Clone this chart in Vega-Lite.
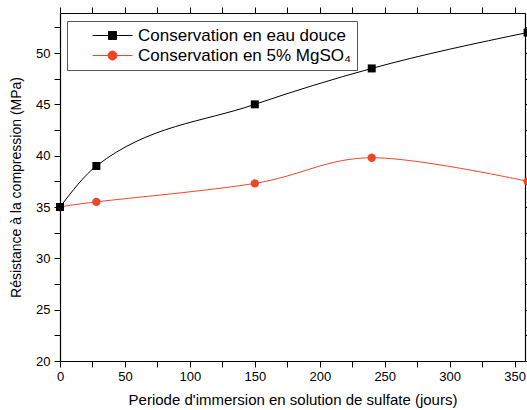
{
  "$schema": "https://vega.github.io/schema/vega-lite/v6.json",
  "width": 465,
  "height": 348,
  "autosize": {"type": "none"},
  "padding": {"left": 60, "top": 13, "right": 2, "bottom": 49},
  "background": "white",
  "config": {
    "view": {"stroke": null},
    "axis": {
      "domainColor": "black",
      "tickColor": "black",
      "labelColor": "black",
      "titleColor": "black",
      "labelFont": "Liberation Sans",
      "titleFont": "Liberation Sans",
      "labelFontSize": 13,
      "titleFontSize": 15,
      "titleFontWeight": "normal",
      "grid": false,
      "labelFlush": false,
      "labelOverlap": false,
      "domainWidth": 1.2,
      "tickWidth": 1
    },
    "legend": {
      "labelFont": "Liberation Sans",
      "labelFontSize": 17,
      "labelColor": "black",
      "labelLimit": 400
    }
  },
  "data": {
    "values": [
      {"jours": 0, "resistance": 35.0, "serie": "Conservation en eau douce"},
      {"jours": 28, "resistance": 39.0, "serie": "Conservation en eau douce"},
      {"jours": 150, "resistance": 45.0, "serie": "Conservation en eau douce"},
      {"jours": 240, "resistance": 48.5, "serie": "Conservation en eau douce"},
      {"jours": 360, "resistance": 52.0, "serie": "Conservation en eau douce"},
      {"jours": 0, "resistance": 35.0, "serie": "Conservation en 5% MgSO₄"},
      {"jours": 28, "resistance": 35.5, "serie": "Conservation en 5% MgSO₄"},
      {"jours": 150, "resistance": 37.3, "serie": "Conservation en 5% MgSO₄"},
      {"jours": 240, "resistance": 39.8, "serie": "Conservation en 5% MgSO₄"},
      {"jours": 360, "resistance": 37.5, "serie": "Conservation en 5% MgSO₄"}
    ]
  },
  "resolve": {"axis": {"x": "independent", "y": "independent"}},
  "layer": [
    {
      "transform": [{"filter": "datum.serie === 'Conservation en eau douce'"}],
      "mark": {"type": "line", "interpolate": "monotone", "strokeWidth": 1, "clip": true},
      "encoding": {
        "x": {
          "field": "jours", "type": "quantitative",
          "scale": {"domain": [0, 358], "nice": false, "zero": false},
          "axis": {
            "orient": "bottom",
            "title": "Periode d'immersion en solution de sulfate (jours)",
            "values": [0, 25, 50, 75, 100, 125, 150, 175, 200, 225, 250, 275, 300, 325, 350],
            "labelExpr": "datum.value % 50 === 0 ? datum.label : ''",
            "tickSize": 6,
            "labelPadding": 3,
            "titlePadding": 9,
            "encode": {"ticks": {"y2": {"value": {"expr": "datum.value % 50 === 0 ? 6 : 3"}}}}
          }
        },
        "y": {
          "field": "resistance", "type": "quantitative",
          "scale": {"domain": [20, 53.9], "nice": false, "zero": false},
          "axis": {
            "orient": "left",
            "title": "Résistance à la compression (MPa)",
            "titleFontSize": 14,
            "values": [20, 22.5, 25, 27.5, 30, 32.5, 35, 37.5, 40, 42.5, 45, 47.5, 50, 52.5],
            "labelExpr": "datum.value % 5 === 0 ? datum.label : ''",
            "tickSize": 6,
            "labelPadding": 4,
            "titlePadding": 12,
            "encode": {"ticks": {"x2": {"value": {"expr": "datum.value % 5 === 0 ? -6 : -3"}}}}
          }
        },
        "color": {
          "field": "serie", "type": "nominal",
          "scale": {"domain": ["Conservation en eau douce", "Conservation en 5% MgSO₄"], "range": ["black", "#ef4626"]},
          "legend": {
            "title": null,
            "orient": "none",
            "legendX": 7,
            "legendY": 8,
            "padding": 6,
            "strokeColor": "#555555",
            "fillColor": "white",
            "symbolSize": 100,
            "symbolOffset": 31,
            "labelOffset": 17,
            "rowPadding": 2,
            "labelExpr": "datum.label + '\u00a0\u00a0\u00a0\u00a0'",
            "encode": {
              "symbols": {
                "update": {
                  "shape": {"signal": "datum.value === 'Conservation en eau douce' ? 'M-4,0H4M-0.8,-0.8H0.8V0.8H-0.8Z' : 'M-4,0H4M-0.9,0A0.9,0.9 0 1,0 0.9,0A0.9,0.9 0 1,0 -0.9,0Z'"},
                  "fill": {"signal": "datum.value === 'Conservation en eau douce' ? 'black' : '#ef4626'"},
                  "strokeWidth": {"value": 1},
                  "opacity": {"value": 1}
                }
              }
            }
          }
        }
      }
    },
    {
      "transform": [{"filter": "datum.serie === 'Conservation en 5% MgSO₄'"}],
      "mark": {"type": "line", "interpolate": "cardinal", "strokeWidth": 1, "clip": true},
      "encoding": {
        "x": {"field": "jours", "type": "quantitative", "axis": null},
        "y": {"field": "resistance", "type": "quantitative", "axis": null},
        "color": {"field": "serie", "type": "nominal"}
      }
    },
    {
      "transform": [{"filter": "datum.serie === 'Conservation en 5% MgSO₄'"}],
      "mark": {"type": "point", "filled": true, "size": 70, "opacity": 1, "shape": "circle"},
      "encoding": {
        "x": {"field": "jours", "type": "quantitative", "axis": null},
        "y": {"field": "resistance", "type": "quantitative", "axis": null},
        "color": {"field": "serie", "type": "nominal"}
      }
    },
    {
      "transform": [{"filter": "datum.serie === 'Conservation en eau douce'"}],
      "mark": {"type": "point", "filled": true, "size": 64, "opacity": 1, "shape": "square"},
      "encoding": {
        "x": {
          "field": "jours", "type": "quantitative",
          "axis": {
            "orient": "top",
            "title": null,
            "labels": false,
            "values": [0, 25, 50, 75, 100, 125, 150, 175, 200, 225, 250, 275, 300, 325, 350],
            "tickSize": 6,
            "encode": {"ticks": {"y2": {"value": {"expr": "datum.value % 50 === 0 ? 6 : 3"}}}}
          }
        },
        "y": {
          "field": "resistance", "type": "quantitative",
          "axis": {
            "orient": "right",
            "title": null,
            "labels": false,
            "values": [20, 22.5, 25, 27.5, 30, 32.5, 35, 37.5, 40, 42.5, 45, 47.5, 50, 52.5],
            "tickSize": 6,
            "encode": {"ticks": {"x2": {"value": {"expr": "datum.value % 5 === 0 ? -6 : -3"}}}}
          }
        },
        "color": {"field": "serie", "type": "nominal"}
      }
    }
  ]
}
